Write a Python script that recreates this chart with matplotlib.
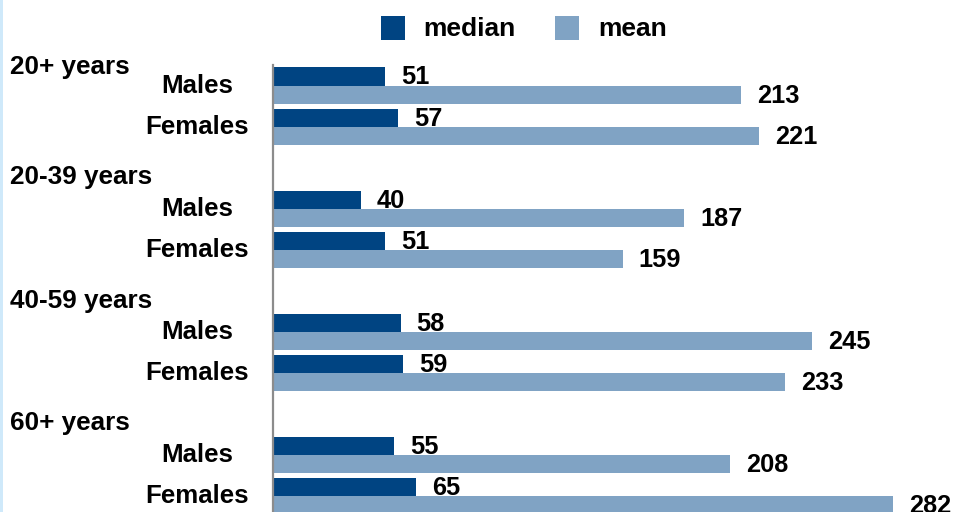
import matplotlib
matplotlib.use("Agg")
import matplotlib.pyplot as plt
from matplotlib.patches import Rectangle
from matplotlib.transforms import blended_transform_factory
import numpy as np

groups = ["20+ years", "20-39 years", "40-59 years", "60+ years"]
sexes = ["Males", "Females"]
median = [51, 57, 40, 51, 58, 59, 55, 65]
mean = [213, 221, 187, 159, 245, 233, 208, 282]
series_names = ["median", "mean"]

C_MED = "#004482"
C_MEAN = "#80A3C4"
FONT = "Liberation Sans"

W, H = 957, 512
fig = plt.figure(figsize=(W / 100, H / 100), dpi=100)
ax = fig.add_axes([273 / W, 0, (W - 273) / W, (H - 65) / H])

pos = np.array([g * 3 + s for g in range(len(groups)) for s in range(len(sexes))], dtype=float)
bh = 0.44
ax.barh(pos - bh / 2, median, height=bh, color=C_MED)
ax.barh(pos + bh / 2, mean, height=bh, color=C_MEAN)

ax.set_xlim(0, 311)
ax.set_ylim(10.39, -0.5)
for s in ["top", "right", "bottom"]:
    ax.spines[s].set_visible(False)
ax.spines["left"].set_color("#8c8c8c")
ax.spines["left"].set_linewidth(1.6)
ax.set_xticks([])
ax.set_yticks([])

tf = dict(family=FONT, weight="bold", color="black")
for p, v in zip(pos - bh / 2, median):
    ax.annotate(str(v), xy=(v, p), xytext=(16, -8), textcoords="offset pixels",
                ha="left", va="baseline", fontsize=18.3, annotation_clip=False, **tf)
for p, v in zip(pos + bh / 2, mean):
    ax.annotate(str(v), xy=(v, p), xytext=(16, -8), textcoords="offset pixels",
                ha="left", va="baseline", fontsize=18.3, annotation_clip=False, **tf)

bt = blended_transform_factory(fig.transFigure, ax.transData)
for p, i in zip(pos, range(len(pos))):
    ax.text(197 / W, p + 0.18, sexes[i % 2], transform=bt, ha="center", va="baseline",
            fontsize=18.6, clip_on=False, **tf)
group_y = [-0.27, 2.41, 5.41, 8.39]
for gy, g in zip(group_y, groups):
    ax.text(10 / W, gy, g, transform=bt, ha="left", va="baseline", fontsize=18.8,
            clip_on=False, **tf)

# legend (manual, figure pixel coordinates)
for x0, col, tx, name in [(381, C_MED, 423, series_names[0]), (555, C_MEAN, 598, series_names[1])]:
    fig.add_artist(Rectangle((x0 / W, 1 - 40 / H), 24 / W, 24 / H, transform=fig.transFigure,
                             facecolor=col, edgecolor="none"))
    fig.text(tx / W, 1 - 36 / H, name, ha="left", va="baseline", fontsize=19, **tf)

# light blue strip at the left edge
fig.add_artist(Rectangle((0, 0), 3 / W, 1, transform=fig.transFigure,
                         facecolor="#cfe9fa", edgecolor="none"))

fig.savefig("out.png", dpi=100)
